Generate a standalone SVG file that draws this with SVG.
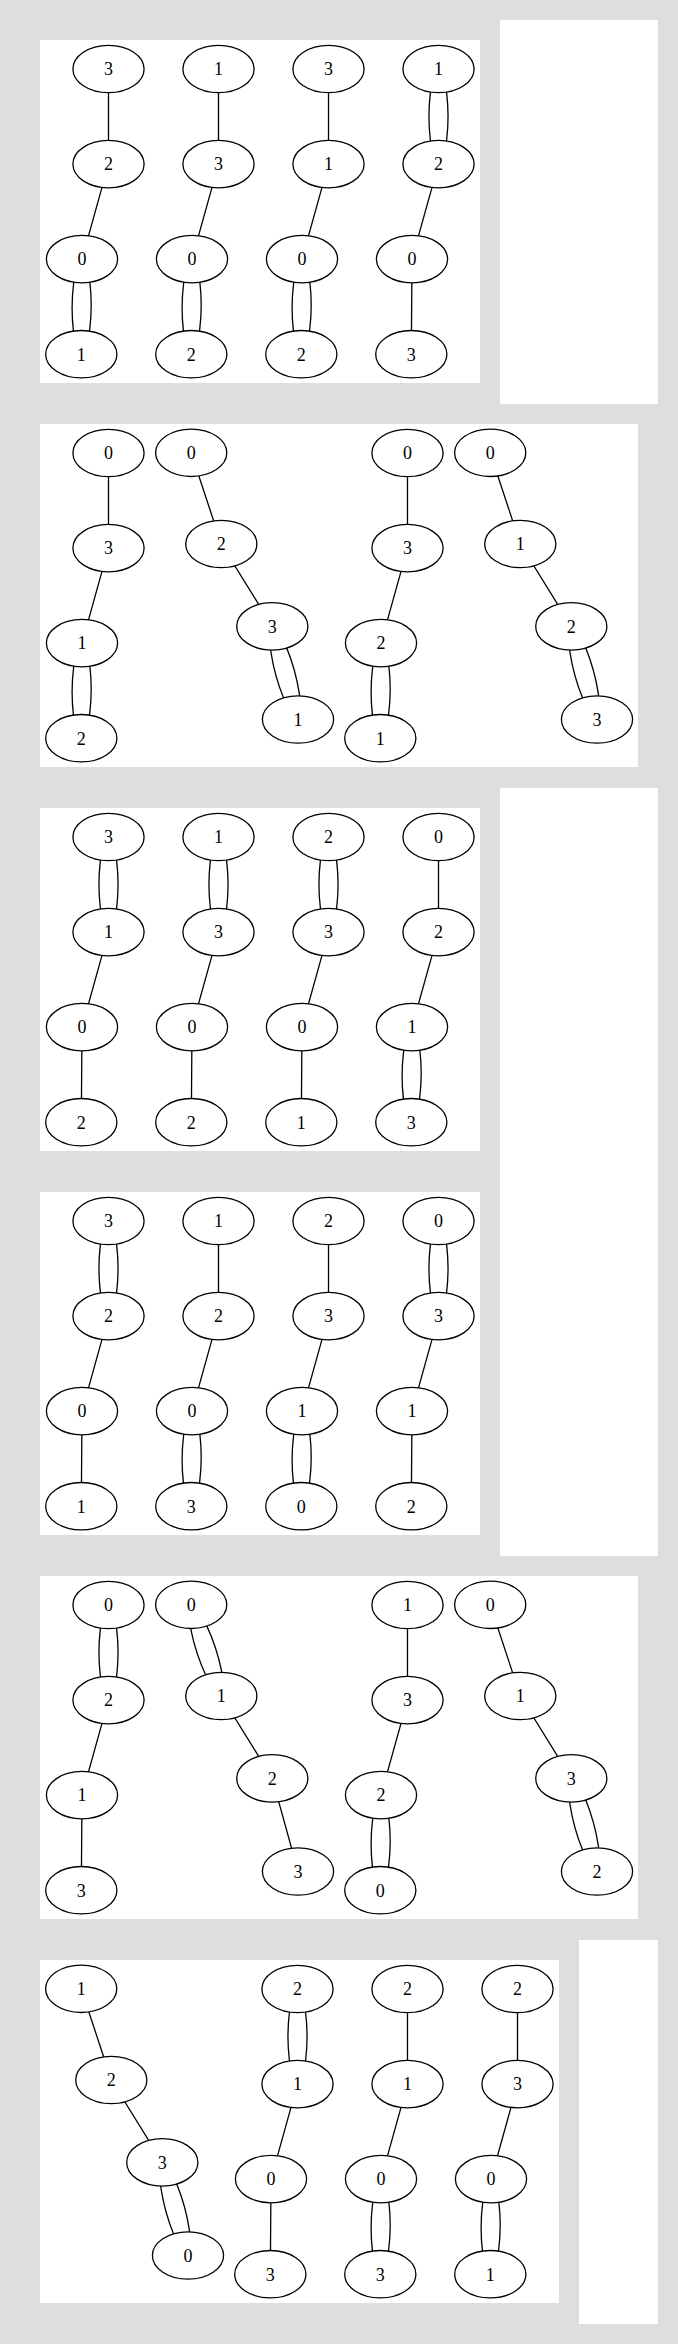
<svg xmlns="http://www.w3.org/2000/svg" width="678" height="2344" viewBox="0 0 678 2344">
<style>
.bg{fill:#dedede}
.panel{fill:#ffffff}
.e{fill:none;stroke:#000;stroke-width:1.3}
.n ellipse{fill:#fff;stroke:#000;stroke-width:1.3}
.n text{font-family:"Liberation Serif","Times New Roman",serif;font-size:18px;text-anchor:middle;fill:#000}
</style>
<defs>
<ellipse id="ov" cx="0" cy="0" rx="35.6" ry="23.7"/>
</defs>
<rect class="bg" x="0" y="0" width="678" height="2344"/>
<rect class="panel" x="500" y="20" width="158" height="384"/>
<rect class="panel" x="500" y="788" width="158" height="768"/>
<rect class="panel" x="579" y="1940" width="79" height="384"/>

<!-- Panel 1 -->
<g id="panel1" transform="translate(40,40)">
<rect class="panel" x="0" y="0" width="440" height="343"/>
<g id="p1-connectors" class="e">
<g transform="translate(68.5,0)"><path d="M0,29V124.1M0,124.1L-26.5,219.1M-30.3,219.1Q-42.15,266.65 -31,314.2M-22.7,219.1Q-11.55,266.65 -23.4,314.2"/></g>
<g transform="translate(178.5,0)"><path d="M0,29V124.1M0,124.1L-26.5,219.1M-30.3,219.1Q-42.15,266.65 -31,314.2M-22.7,219.1Q-11.55,266.65 -23.4,314.2"/></g>
<g transform="translate(288.5,0)"><path d="M0,29V124.1M0,124.1L-26.5,219.1M-30.3,219.1Q-42.15,266.65 -31,314.2M-22.7,219.1Q-11.55,266.65 -23.4,314.2"/></g>
<g transform="translate(398.5,0)"><path d="M-3.8,29Q-15.3,76.55 -3.8,124.1M3.8,29Q15.3,76.55 3.8,124.1M0,124.1L-26.5,219.1M-26.5,219.1L-27.2,314.2"/></g>
</g>
<g id="p1-c1-n3" class="n" transform="translate(68.5,29)"><ellipse rx="35.6" ry="23.7"/><text y="6.3">3</text></g>
<g id="p1-c1-n2" class="n" transform="translate(68.5,124.1)"><ellipse rx="35.6" ry="23.7"/><text y="6.3">2</text></g>
<g id="p1-c1-n0" class="n" transform="translate(42,219.1)"><ellipse rx="35.6" ry="23.7"/><text y="6.3">0</text></g>
<g id="p1-c1-n1" class="n" transform="translate(41.3,314.2)"><ellipse rx="35.6" ry="23.7"/><text y="6.3">1</text></g>
<g id="p1-c2-n1" class="n" transform="translate(178.5,29)"><ellipse rx="35.6" ry="23.7"/><text y="6.3">1</text></g>
<g id="p1-c2-n3" class="n" transform="translate(178.5,124.1)"><ellipse rx="35.6" ry="23.7"/><text y="6.3">3</text></g>
<g id="p1-c2-n0" class="n" transform="translate(152,219.1)"><ellipse rx="35.6" ry="23.7"/><text y="6.3">0</text></g>
<g id="p1-c2-n2" class="n" transform="translate(151.3,314.2)"><ellipse rx="35.6" ry="23.7"/><text y="6.3">2</text></g>
<g id="p1-c3-n3" class="n" transform="translate(288.5,29)"><ellipse rx="35.6" ry="23.7"/><text y="6.3">3</text></g>
<g id="p1-c3-n1" class="n" transform="translate(288.5,124.1)"><ellipse rx="35.6" ry="23.7"/><text y="6.3">1</text></g>
<g id="p1-c3-n0" class="n" transform="translate(262,219.1)"><ellipse rx="35.6" ry="23.7"/><text y="6.3">0</text></g>
<g id="p1-c3-n2" class="n" transform="translate(261.3,314.2)"><ellipse rx="35.6" ry="23.7"/><text y="6.3">2</text></g>
<g id="p1-c4-n1" class="n" transform="translate(398.5,29)"><ellipse rx="35.6" ry="23.7"/><text y="6.3">1</text></g>
<g id="p1-c4-n2" class="n" transform="translate(398.5,124.1)"><ellipse rx="35.6" ry="23.7"/><text y="6.3">2</text></g>
<g id="p1-c4-n0" class="n" transform="translate(372,219.1)"><ellipse rx="35.6" ry="23.7"/><text y="6.3">0</text></g>
<g id="p1-c4-n3" class="n" transform="translate(371.3,314.2)"><ellipse rx="35.6" ry="23.7"/><text y="6.3">3</text></g>
</g>

<!-- Panel 2 -->
<g id="panel2" transform="translate(40,424)">
<rect class="panel" x="0" y="0" width="598" height="343"/>
<g id="p2-connectors" class="e">
<g transform="translate(68.5,0)"><path d="M0,29V124.1M0,124.1L-26.5,219.1M-30.3,219.1Q-42.15,266.65 -31,314.2M-22.7,219.1Q-11.55,266.65 -23.4,314.2"/></g>
<g transform="translate(151.2,0)"><path d="M0,28.8L30.1,120M30.1,120L81.1,202.4M77.44,203.41Q79.2,253.02 103.14,296.51M84.76,201.39Q108.7,244.88 110.46,294.49"/></g>
<g transform="translate(367.5,0)"><path d="M0,29V124.1M0,124.1L-26.5,219.1M-30.3,219.1Q-42.15,266.65 -31,314.2M-22.7,219.1Q-11.55,266.65 -23.4,314.2"/></g>
<g transform="translate(450.2,0)"><path d="M0,28.8L30.1,120M30.1,120L81.1,202.4M77.44,203.41Q79.2,253.02 103.14,296.51M84.76,201.39Q108.7,244.88 110.46,294.49"/></g>
</g>
<g id="p2-a-n0" class="n" transform="translate(68.5,29)"><ellipse rx="35.6" ry="23.7"/><text y="6.3">0</text></g>
<g id="p2-a-n3" class="n" transform="translate(68.5,124.1)"><ellipse rx="35.6" ry="23.7"/><text y="6.3">3</text></g>
<g id="p2-a-n1" class="n" transform="translate(42,219.1)"><ellipse rx="35.6" ry="23.7"/><text y="6.3">1</text></g>
<g id="p2-a-n2" class="n" transform="translate(41.3,314.2)"><ellipse rx="35.6" ry="23.7"/><text y="6.3">2</text></g>
<g id="p2-b-n0" class="n" transform="translate(151.2,28.8)"><ellipse rx="35.6" ry="23.7"/><text y="6.3">0</text></g>
<g id="p2-b-n2" class="n" transform="translate(181.3,120)"><ellipse rx="35.6" ry="23.7"/><text y="6.3">2</text></g>
<g id="p2-b-n3" class="n" transform="translate(232.3,202.4)"><ellipse rx="35.6" ry="23.7"/><text y="6.3">3</text></g>
<g id="p2-b-n1" class="n" transform="translate(258,295.5)"><ellipse rx="35.6" ry="23.7"/><text y="6.3">1</text></g>
<g id="p2-c-n0" class="n" transform="translate(367.5,29)"><ellipse rx="35.6" ry="23.7"/><text y="6.3">0</text></g>
<g id="p2-c-n3" class="n" transform="translate(367.5,124.1)"><ellipse rx="35.6" ry="23.7"/><text y="6.3">3</text></g>
<g id="p2-c-n2" class="n" transform="translate(341,219.1)"><ellipse rx="35.6" ry="23.7"/><text y="6.3">2</text></g>
<g id="p2-c-n1" class="n" transform="translate(340.3,314.2)"><ellipse rx="35.6" ry="23.7"/><text y="6.3">1</text></g>
<g id="p2-d-n0" class="n" transform="translate(450.2,28.8)"><ellipse rx="35.6" ry="23.7"/><text y="6.3">0</text></g>
<g id="p2-d-n1" class="n" transform="translate(480.3,120)"><ellipse rx="35.6" ry="23.7"/><text y="6.3">1</text></g>
<g id="p2-d-n2" class="n" transform="translate(531.3,202.4)"><ellipse rx="35.6" ry="23.7"/><text y="6.3">2</text></g>
<g id="p2-d-n3" class="n" transform="translate(557,295.5)"><ellipse rx="35.6" ry="23.7"/><text y="6.3">3</text></g>
</g>

<!-- Panel 3 -->
<g id="panel3" transform="translate(40,808)">
<rect class="panel" x="0" y="0" width="440" height="343"/>
<g id="p3-connectors" class="e">
<g transform="translate(68.5,0)"><path d="M-3.8,29Q-15.3,76.55 -3.8,124.1M3.8,29Q15.3,76.55 3.8,124.1M0,124.1L-26.5,219.1M-26.5,219.1L-27.2,314.2"/></g>
<g transform="translate(178.5,0)"><path d="M-3.8,29Q-15.3,76.55 -3.8,124.1M3.8,29Q15.3,76.55 3.8,124.1M0,124.1L-26.5,219.1M-26.5,219.1L-27.2,314.2"/></g>
<g transform="translate(288.5,0)"><path d="M-3.8,29Q-15.3,76.55 -3.8,124.1M3.8,29Q15.3,76.55 3.8,124.1M0,124.1L-26.5,219.1M-26.5,219.1L-27.2,314.2"/></g>
<g transform="translate(398.5,0)"><path d="M0,29V124.1M0,124.1L-26.5,219.1M-30.3,219.1Q-42.15,266.65 -31,314.2M-22.7,219.1Q-11.55,266.65 -23.4,314.2"/></g>
</g>
<g id="p3-c1-n3" class="n" transform="translate(68.5,29)"><ellipse rx="35.6" ry="23.7"/><text y="6.3">3</text></g>
<g id="p3-c1-n1" class="n" transform="translate(68.5,124.1)"><ellipse rx="35.6" ry="23.7"/><text y="6.3">1</text></g>
<g id="p3-c1-n0" class="n" transform="translate(42,219.1)"><ellipse rx="35.6" ry="23.7"/><text y="6.3">0</text></g>
<g id="p3-c1-n2" class="n" transform="translate(41.3,314.2)"><ellipse rx="35.6" ry="23.7"/><text y="6.3">2</text></g>
<g id="p3-c2-n1" class="n" transform="translate(178.5,29)"><ellipse rx="35.6" ry="23.7"/><text y="6.3">1</text></g>
<g id="p3-c2-n3" class="n" transform="translate(178.5,124.1)"><ellipse rx="35.6" ry="23.7"/><text y="6.3">3</text></g>
<g id="p3-c2-n0" class="n" transform="translate(152,219.1)"><ellipse rx="35.6" ry="23.7"/><text y="6.3">0</text></g>
<g id="p3-c2-n2" class="n" transform="translate(151.3,314.2)"><ellipse rx="35.6" ry="23.7"/><text y="6.3">2</text></g>
<g id="p3-c3-n2" class="n" transform="translate(288.5,29)"><ellipse rx="35.6" ry="23.7"/><text y="6.3">2</text></g>
<g id="p3-c3-n3" class="n" transform="translate(288.5,124.1)"><ellipse rx="35.6" ry="23.7"/><text y="6.3">3</text></g>
<g id="p3-c3-n0" class="n" transform="translate(262,219.1)"><ellipse rx="35.6" ry="23.7"/><text y="6.3">0</text></g>
<g id="p3-c3-n1" class="n" transform="translate(261.3,314.2)"><ellipse rx="35.6" ry="23.7"/><text y="6.3">1</text></g>
<g id="p3-c4-n0" class="n" transform="translate(398.5,29)"><ellipse rx="35.6" ry="23.7"/><text y="6.3">0</text></g>
<g id="p3-c4-n2" class="n" transform="translate(398.5,124.1)"><ellipse rx="35.6" ry="23.7"/><text y="6.3">2</text></g>
<g id="p3-c4-n1" class="n" transform="translate(372,219.1)"><ellipse rx="35.6" ry="23.7"/><text y="6.3">1</text></g>
<g id="p3-c4-n3" class="n" transform="translate(371.3,314.2)"><ellipse rx="35.6" ry="23.7"/><text y="6.3">3</text></g>
</g>

<!-- Panel 4 -->
<g id="panel4" transform="translate(40,1192)">
<rect class="panel" x="0" y="0" width="440" height="343"/>
<g id="p4-connectors" class="e">
<g transform="translate(68.5,0)"><path d="M-3.8,29Q-15.3,76.55 -3.8,124.1M3.8,29Q15.3,76.55 3.8,124.1M0,124.1L-26.5,219.1M-26.5,219.1L-27.2,314.2"/></g>
<g transform="translate(178.5,0)"><path d="M0,29V124.1M0,124.1L-26.5,219.1M-30.3,219.1Q-42.15,266.65 -31,314.2M-22.7,219.1Q-11.55,266.65 -23.4,314.2"/></g>
<g transform="translate(288.5,0)"><path d="M0,29V124.1M0,124.1L-26.5,219.1M-30.3,219.1Q-42.15,266.65 -31,314.2M-22.7,219.1Q-11.55,266.65 -23.4,314.2"/></g>
<g transform="translate(398.5,0)"><path d="M-3.8,29Q-15.3,76.55 -3.8,124.1M3.8,29Q15.3,76.55 3.8,124.1M0,124.1L-26.5,219.1M-26.5,219.1L-27.2,314.2"/></g>
</g>
<g id="p4-c1-n3" class="n" transform="translate(68.5,29)"><ellipse rx="35.6" ry="23.7"/><text y="6.3">3</text></g>
<g id="p4-c1-n2" class="n" transform="translate(68.5,124.1)"><ellipse rx="35.6" ry="23.7"/><text y="6.3">2</text></g>
<g id="p4-c1-n0" class="n" transform="translate(42,219.1)"><ellipse rx="35.6" ry="23.7"/><text y="6.3">0</text></g>
<g id="p4-c1-n1" class="n" transform="translate(41.3,314.2)"><ellipse rx="35.6" ry="23.7"/><text y="6.3">1</text></g>
<g id="p4-c2-n1" class="n" transform="translate(178.5,29)"><ellipse rx="35.6" ry="23.7"/><text y="6.3">1</text></g>
<g id="p4-c2-n2" class="n" transform="translate(178.5,124.1)"><ellipse rx="35.6" ry="23.7"/><text y="6.3">2</text></g>
<g id="p4-c2-n0" class="n" transform="translate(152,219.1)"><ellipse rx="35.6" ry="23.7"/><text y="6.3">0</text></g>
<g id="p4-c2-n3" class="n" transform="translate(151.3,314.2)"><ellipse rx="35.6" ry="23.7"/><text y="6.3">3</text></g>
<g id="p4-c3-n2" class="n" transform="translate(288.5,29)"><ellipse rx="35.6" ry="23.7"/><text y="6.3">2</text></g>
<g id="p4-c3-n3" class="n" transform="translate(288.5,124.1)"><ellipse rx="35.6" ry="23.7"/><text y="6.3">3</text></g>
<g id="p4-c3-n1" class="n" transform="translate(262,219.1)"><ellipse rx="35.6" ry="23.7"/><text y="6.3">1</text></g>
<g id="p4-c3-n0" class="n" transform="translate(261.3,314.2)"><ellipse rx="35.6" ry="23.7"/><text y="6.3">0</text></g>
<g id="p4-c4-n0" class="n" transform="translate(398.5,29)"><ellipse rx="35.6" ry="23.7"/><text y="6.3">0</text></g>
<g id="p4-c4-n3" class="n" transform="translate(398.5,124.1)"><ellipse rx="35.6" ry="23.7"/><text y="6.3">3</text></g>
<g id="p4-c4-n1" class="n" transform="translate(372,219.1)"><ellipse rx="35.6" ry="23.7"/><text y="6.3">1</text></g>
<g id="p4-c4-n2" class="n" transform="translate(371.3,314.2)"><ellipse rx="35.6" ry="23.7"/><text y="6.3">2</text></g>
</g>

<!-- Panel 5 -->
<g id="panel5" transform="translate(40,1576)">
<rect class="panel" x="0" y="0" width="598" height="343"/>
<g id="p5-connectors" class="e">
<g transform="translate(68.5,0)"><path d="M-3.8,29Q-15.3,76.55 -3.8,124.1M3.8,29Q15.3,76.55 3.8,124.1M0,124.1L-26.5,219.1M-26.5,219.1L-27.2,314.2"/></g>
<g transform="translate(151.2,0)"><path d="M-3.61,29.99Q0.52,79.2 26.49,121.19M3.61,27.61Q29.58,69.6 33.71,118.81M30.1,120L81.1,202.4M81.1,202.4L106.8,295.5"/></g>
<g transform="translate(367.5,0)"><path d="M0,29V124.1M0,124.1L-26.5,219.1M-30.3,219.1Q-42.15,266.65 -31,314.2M-22.7,219.1Q-11.55,266.65 -23.4,314.2"/></g>
<g transform="translate(450.2,0)"><path d="M0,28.8L30.1,120M30.1,120L81.1,202.4M77.44,203.41Q79.2,253.02 103.14,296.51M84.76,201.39Q108.7,244.88 110.46,294.49"/></g>
</g>
<g id="p5-a-n0" class="n" transform="translate(68.5,29)"><ellipse rx="35.6" ry="23.7"/><text y="6.3">0</text></g>
<g id="p5-a-n2" class="n" transform="translate(68.5,124.1)"><ellipse rx="35.6" ry="23.7"/><text y="6.3">2</text></g>
<g id="p5-a-n1" class="n" transform="translate(42,219.1)"><ellipse rx="35.6" ry="23.7"/><text y="6.3">1</text></g>
<g id="p5-a-n3" class="n" transform="translate(41.3,314.2)"><ellipse rx="35.6" ry="23.7"/><text y="6.3">3</text></g>
<g id="p5-b-n0" class="n" transform="translate(151.2,28.8)"><ellipse rx="35.6" ry="23.7"/><text y="6.3">0</text></g>
<g id="p5-b-n1" class="n" transform="translate(181.3,120)"><ellipse rx="35.6" ry="23.7"/><text y="6.3">1</text></g>
<g id="p5-b-n2" class="n" transform="translate(232.3,202.4)"><ellipse rx="35.6" ry="23.7"/><text y="6.3">2</text></g>
<g id="p5-b-n3" class="n" transform="translate(258,295.5)"><ellipse rx="35.6" ry="23.7"/><text y="6.3">3</text></g>
<g id="p5-c-n1" class="n" transform="translate(367.5,29)"><ellipse rx="35.6" ry="23.7"/><text y="6.3">1</text></g>
<g id="p5-c-n3" class="n" transform="translate(367.5,124.1)"><ellipse rx="35.6" ry="23.7"/><text y="6.3">3</text></g>
<g id="p5-c-n2" class="n" transform="translate(341,219.1)"><ellipse rx="35.6" ry="23.7"/><text y="6.3">2</text></g>
<g id="p5-c-n0" class="n" transform="translate(340.3,314.2)"><ellipse rx="35.6" ry="23.7"/><text y="6.3">0</text></g>
<g id="p5-d-n0" class="n" transform="translate(450.2,28.8)"><ellipse rx="35.6" ry="23.7"/><text y="6.3">0</text></g>
<g id="p5-d-n1" class="n" transform="translate(480.3,120)"><ellipse rx="35.6" ry="23.7"/><text y="6.3">1</text></g>
<g id="p5-d-n3" class="n" transform="translate(531.3,202.4)"><ellipse rx="35.6" ry="23.7"/><text y="6.3">3</text></g>
<g id="p5-d-n2" class="n" transform="translate(557,295.5)"><ellipse rx="35.6" ry="23.7"/><text y="6.3">2</text></g>
</g>

<!-- Panel 6 -->
<g id="panel6" transform="translate(40,1960)">
<rect class="panel" x="0" y="0" width="519" height="343"/>
<g id="p6-connectors" class="e">
<g transform="translate(41.2,0)"><path d="M0,28.8L30.1,120M30.1,120L81.1,202.4M77.44,203.41Q79.2,253.02 103.14,296.51M84.76,201.39Q108.7,244.88 110.46,294.49"/></g>
<g transform="translate(257.5,0)"><path d="M-3.8,29Q-15.3,76.55 -3.8,124.1M3.8,29Q15.3,76.55 3.8,124.1M0,124.1L-26.5,219.1M-26.5,219.1L-27.2,314.2"/></g>
<g transform="translate(367.5,0)"><path d="M0,29V124.1M0,124.1L-26.5,219.1M-30.3,219.1Q-42.15,266.65 -31,314.2M-22.7,219.1Q-11.55,266.65 -23.4,314.2"/></g>
<g transform="translate(477.5,0)"><path d="M0,29V124.1M0,124.1L-26.5,219.1M-30.3,219.1Q-42.15,266.65 -31,314.2M-22.7,219.1Q-11.55,266.65 -23.4,314.2"/></g>
</g>
<g id="p6-c1-n1" class="n" transform="translate(41.2,28.8)"><ellipse rx="35.6" ry="23.7"/><text y="6.3">1</text></g>
<g id="p6-c1-n2" class="n" transform="translate(71.3,120)"><ellipse rx="35.6" ry="23.7"/><text y="6.3">2</text></g>
<g id="p6-c1-n3" class="n" transform="translate(122.3,202.4)"><ellipse rx="35.6" ry="23.7"/><text y="6.3">3</text></g>
<g id="p6-c1-n0" class="n" transform="translate(148,295.5)"><ellipse rx="35.6" ry="23.7"/><text y="6.3">0</text></g>
<g id="p6-c2-n2" class="n" transform="translate(257.5,29)"><ellipse rx="35.6" ry="23.7"/><text y="6.3">2</text></g>
<g id="p6-c2-n1" class="n" transform="translate(257.5,124.1)"><ellipse rx="35.6" ry="23.7"/><text y="6.3">1</text></g>
<g id="p6-c2-n0" class="n" transform="translate(231,219.1)"><ellipse rx="35.6" ry="23.7"/><text y="6.3">0</text></g>
<g id="p6-c2-n3" class="n" transform="translate(230.3,314.2)"><ellipse rx="35.6" ry="23.7"/><text y="6.3">3</text></g>
<g id="p6-c3-n2" class="n" transform="translate(367.5,29)"><ellipse rx="35.6" ry="23.7"/><text y="6.3">2</text></g>
<g id="p6-c3-n1" class="n" transform="translate(367.5,124.1)"><ellipse rx="35.6" ry="23.7"/><text y="6.3">1</text></g>
<g id="p6-c3-n0" class="n" transform="translate(341,219.1)"><ellipse rx="35.6" ry="23.7"/><text y="6.3">0</text></g>
<g id="p6-c3-n3" class="n" transform="translate(340.3,314.2)"><ellipse rx="35.6" ry="23.7"/><text y="6.3">3</text></g>
<g id="p6-c4-n2" class="n" transform="translate(477.5,29)"><ellipse rx="35.6" ry="23.7"/><text y="6.3">2</text></g>
<g id="p6-c4-n3" class="n" transform="translate(477.5,124.1)"><ellipse rx="35.6" ry="23.7"/><text y="6.3">3</text></g>
<g id="p6-c4-n0" class="n" transform="translate(451,219.1)"><ellipse rx="35.6" ry="23.7"/><text y="6.3">0</text></g>
<g id="p6-c4-n1" class="n" transform="translate(450.3,314.2)"><ellipse rx="35.6" ry="23.7"/><text y="6.3">1</text></g>
</g>
</svg>
